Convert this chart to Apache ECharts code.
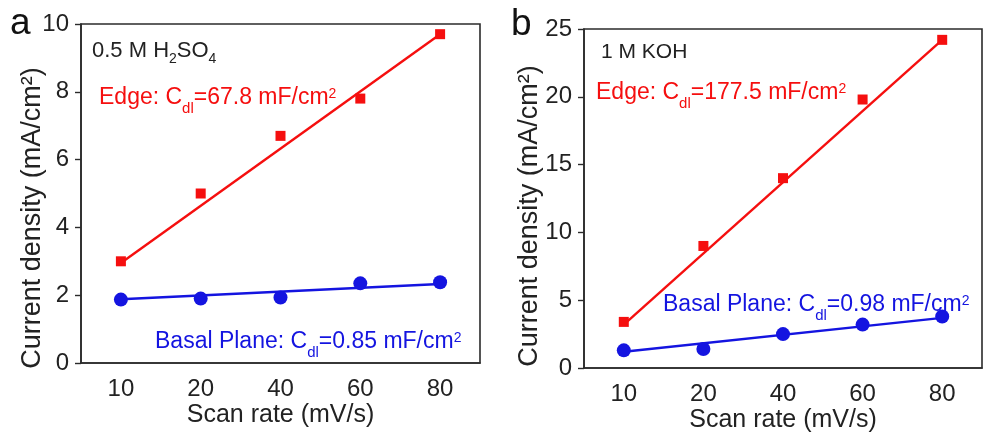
<!DOCTYPE html>
<html>
<head>
<meta charset="utf-8">
<script src="https://cdn.jsdelivr.net/npm/echarts@6/dist/echarts.min.js"></script>
<style>
  html, body { margin: 0; padding: 0; background: #fff; }
  #chart { width: 984px; height: 438px; }
</style>
</head>
<body>
<div id="chart"></div>
<script>
// Scan rates (mV/s), shared by both panels
const scanRates = ['10', '20', '40', '60', '80'];

// Panel a: 0.5 M H2SO4
const edgeA = [3.0, 5.0, 6.7, 7.8, 9.7];
const basalA = [1.87, 1.9, 1.93, 2.35, 2.38];
const edgeFitA = [2.95, 9.7];
const basalFitA = [1.88, 2.33];
const yTicksA = { min: 0, max: 10, interval: 2 };

// Panel b: 1 M KOH
const edgeB = [3.4, 9.0, 14.0, 19.8, 24.2];
const basalB = [1.3, 1.4, 2.5, 3.2, 3.8];
const edgeFitB = [3.2, 24.2];
const basalFitB = [1.2, 3.7];
const yTicksB = { min: 0, max: 25, interval: 5 };

const RED = '#f50f0f';
const BLUE = '#1414e0';
const AXIS = '#2b2b2b';
const TEXT = '#222';
const FONT = 'Liberation Sans, Arial, sans-serif';

function fitLine(fit) {
  return [[scanRates[0], fit[0]], [scanRates[scanRates.length - 1], fit[1]]];
}

function xAxisFor(gridIndex) {
  return {
    type: 'category', gridIndex, data: scanRates, boundaryGap: true,
    name: 'Scan rate (mV/s)', nameLocation: 'middle', nameGap: 40, nameMoveOverlap: false,
    nameTextStyle: { fontSize: 25, color: TEXT, fontFamily: FONT },
    axisLine: { lineStyle: { color: AXIS, width: 1.6 } },
    axisTick: { alignWithLabel: true, length: 5, lineStyle: { color: AXIS, width: 1.4 } },
    axisLabel: { fontSize: 24, color: TEXT, fontFamily: FONT, margin: 14 },
    splitLine: { show: false }
  };
}

function yAxisFor(gridIndex, t, gap, shift) {
  return {
    type: 'value', gridIndex, min: t.min, max: t.max, interval: t.interval,
    name: 'Current density (mA/cm²)', nameLocation: 'middle', nameGap: gap, nameMoveOverlap: false,
    nameTextStyle: { fontSize: 27, color: TEXT, fontFamily: FONT, padding: [0, 0, 0, shift] },
    axisLine: { show: true, lineStyle: { color: AXIS, width: 1.6 } },
    axisTick: { show: true, length: 6, lineStyle: { color: AXIS, width: 1.4 } },
    axisLabel: { fontSize: 24, color: TEXT, fontFamily: FONT, margin: 12 },
    splitLine: { show: false }
  };
}

function seriesFor(idx, edge, basal, edgeFit, basalFit) {
  return [
    { type: 'line', xAxisIndex: idx, yAxisIndex: idx, data: fitLine(edgeFit),
      symbol: 'none', lineStyle: { color: RED, width: 2.4 }, silent: true, z: 2 },
    { type: 'line', xAxisIndex: idx, yAxisIndex: idx, data: fitLine(basalFit),
      symbol: 'none', lineStyle: { color: BLUE, width: 2.4 }, silent: true, z: 2 },
    { type: 'scatter', xAxisIndex: idx, yAxisIndex: idx, data: edge,
      symbol: 'rect', symbolSize: 10, itemStyle: { color: RED, opacity: 1 }, z: 3 },
    { type: 'scatter', xAxisIndex: idx, yAxisIndex: idx, data: basal,
      symbol: 'circle', symbolSize: 14, itemStyle: { color: BLUE, opacity: 1 }, z: 3 }
  ];
}

// Rich text styles: n = normal, s = subscript, p = superscript
function richFor(color, size, subSize, supSize, subPad, supPad) {
  const lh = Math.round(size * 1.2);
  return {
    n: { fontSize: size, fill: color, fontFamily: FONT, lineHeight: lh },
    s: { fontSize: subSize, fill: color, fontFamily: FONT, lineHeight: lh, padding: [subPad, 0, 0, 0] },
    p: { fontSize: supSize, fill: color, fontFamily: FONT, lineHeight: lh, padding: [0, 0, supPad, 0] }
  };
}

function note(x, y, text, color) {
  return { type: 'text', left: x, top: y, z: 10,
    style: { text, rich: richFor(color, 23, 15, 14, 21, 7) } };
}

const chart = echarts.init(document.getElementById('chart'), null, { renderer: 'canvas' });
chart.setOption({
  backgroundColor: '#fff',
  animation: false,
  grid: [
    { left: 81, top: 24, width: 399, height: 339, show: true, borderColor: AXIS, borderWidth: 1.6, backgroundColor: 'transparent' },
    { left: 584, top: 29, width: 398, height: 339, show: true, borderColor: AXIS, borderWidth: 1.6, backgroundColor: 'transparent' }
  ],
  xAxis: [xAxisFor(0), xAxisFor(1)],
  yAxis: [yAxisFor(0, yTicksA, 35, -49), yAxisFor(1, yTicksB, 41, -35)],
  series: [
    ...seriesFor(0, edgeA, basalA, edgeFitA, basalFitA),
    ...seriesFor(1, edgeB, basalB, edgeFitB, basalFitB)
  ],
  graphic: [
    { type: 'text', left: 10, top: 5, style: { text: 'a', fontSize: 37, fontFamily: FONT, fill: '#111' } },
    { type: 'text', left: 511, top: 6, style: { text: 'b', fontSize: 37, fontFamily: FONT, fill: '#111' } },
    { type: 'text', left: 92, top: 35, z: 10, style: {
        text: '{n|0.5 M H}{s|2}{n|SO}{s|4}',
        rich: richFor(TEXT, 22, 14, 14, 17, 0) } },
    note(99, 80, '{n|Edge: C}{s|dl}{n|=67.8 mF/cm}{p|2}', RED),
    note(155, 324, '{n|Basal Plane: C}{s|dl}{n|=0.85 mF/cm}{p|2}', BLUE),
    { type: 'text', left: 601, top: 42, z: 10, style: {
        text: '1 M KOH', fontSize: 21, fill: TEXT, fontFamily: FONT } },
    note(596, 75, '{n|Edge: C}{s|dl}{n|=177.5 mF/cm}{p|2}', RED),
    note(663, 287, '{n|Basal Plane: C}{s|dl}{n|=0.98 mF/cm}{p|2}', BLUE)
  ]
});
</script>
</body>
</html>
